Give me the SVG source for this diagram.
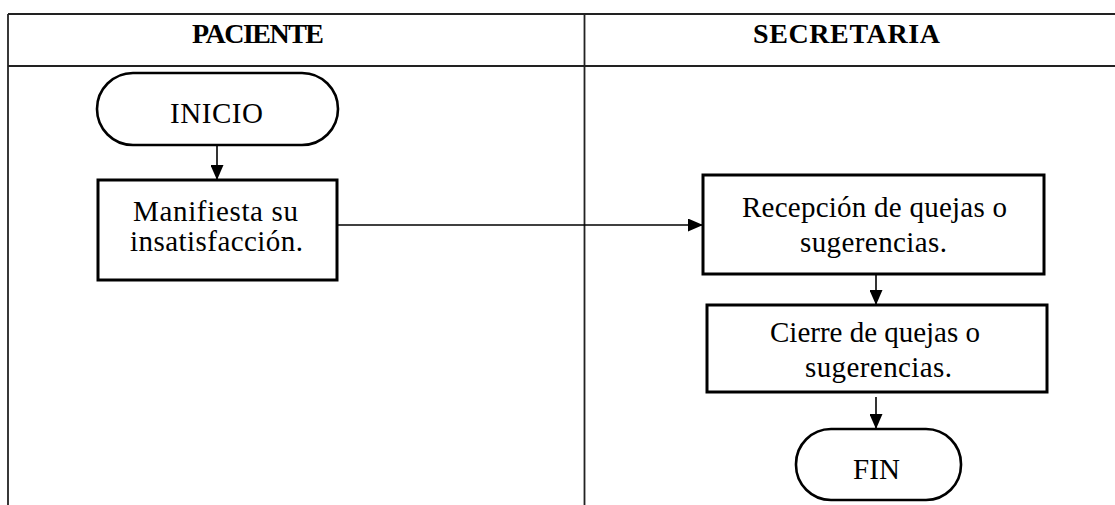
<svg xmlns="http://www.w3.org/2000/svg" width="1115" height="505" viewBox="0 0 1115 505">
<style>
.grid{stroke:#222;stroke-width:1.8;fill:none}
.box{fill:#fff;stroke:#000;stroke-width:3}
.term{fill:#fff;stroke:#000;stroke-width:2.6}
.conn{stroke:#000;stroke-width:1.6;fill:none}
.hd{font-family:"Liberation Serif","Times New Roman",serif;font-weight:bold;font-size:28px;fill:#000;text-anchor:middle}
.tx{font-family:"Liberation Serif","Times New Roman",serif;font-size:29px;fill:#000;text-anchor:middle}
</style>
<defs>
<marker id="ah" markerWidth="15" markerHeight="13" refX="15" refY="6.5" orient="auto" markerUnits="userSpaceOnUse">
<path d="M0,0 L15,6.5 L0,13 Z" fill="#000"/>
</marker>
</defs>
<rect width="1115" height="505" fill="#fff"/>
<g id="table">
<line class="grid" x1="8" y1="14" x2="1115" y2="14"/>
<line class="grid" x1="8" y1="66" x2="1115" y2="66"/>
<line class="grid" x1="8" y1="14" x2="8" y2="505"/>
<line class="grid" x1="584.5" y1="14" x2="584.5" y2="505"/>
<text class="hd" x="258" y="43" font-size="26" textLength="132">PACIENTE</text>
<text class="hd" x="846.5" y="43" textLength="187">SECRETARIA</text>
</g>
<g id="connectors">
<line class="conn" x1="217" y1="145" x2="217" y2="180" marker-end="url(#ah)"/>
<line class="conn" x1="337" y1="225" x2="703" y2="225" marker-end="url(#ah)"/>
<line class="conn" x1="876" y1="274" x2="876" y2="305" marker-end="url(#ah)"/>
<line class="conn" x1="876" y1="397" x2="876" y2="429" marker-end="url(#ah)"/>
</g>
<g id="inicio">
<rect class="term" x="97" y="73" width="241" height="72" rx="36" ry="36"/>
<text class="tx" x="216.5" y="123" textLength="93">INICIO</text>
</g>
<g id="manifiesta">
<rect class="box" x="98" y="180" width="239" height="100"/>
<text class="tx" x="215.5" y="221" textLength="165">Manifiesta su</text>
<text class="tx" x="216.5" y="251" textLength="173">insatisfacción.</text>
</g>
<g id="recepcion">
<rect class="box" x="703" y="175" width="341" height="99"/>
<text class="tx" x="874.5" y="217" textLength="265">Recepción de quejas o</text>
<text class="tx" x="873.5" y="252" textLength="147">sugerencias.</text>
</g>
<g id="cierre">
<rect class="box" x="707" y="305" width="340" height="87"/>
<text class="tx" x="875" y="342" textLength="210">Cierre de quejas o</text>
<text class="tx" x="878.5" y="377" textLength="147">sugerencias.</text>
</g>
<g id="fin">
<rect class="term" x="796" y="429" width="165" height="71" rx="35" ry="35"/>
<text class="tx" x="876.5" y="479" textLength="47">FIN</text>
</g>
</svg>
